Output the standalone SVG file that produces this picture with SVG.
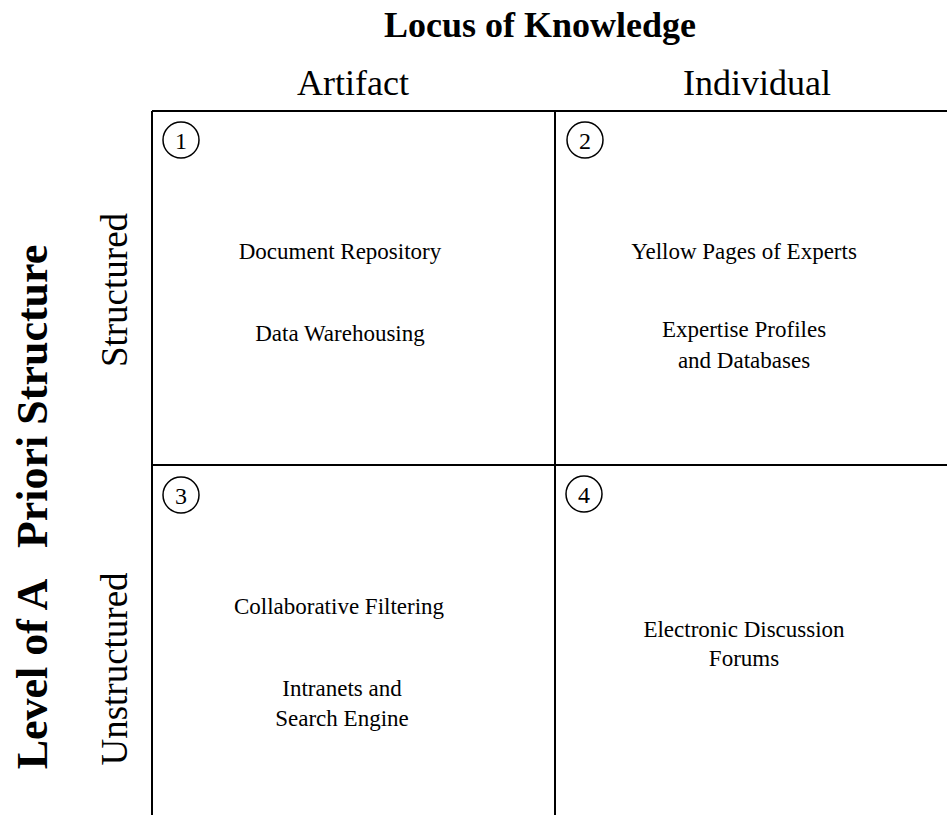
<svg xmlns="http://www.w3.org/2000/svg" width="947" height="815" viewBox="0 0 947 815">
<style>
text{font-family:"Liberation Serif","Times New Roman",serif;fill:#000}
.title{font-size:36px;font-weight:bold;text-anchor:middle}
.col{font-size:36px;text-anchor:middle}
.axis{font-size:44px;font-weight:bold;text-anchor:middle}
.row{font-size:37px;text-anchor:middle}
.cell{font-size:23px;text-anchor:middle}
.num{font-size:24px;text-anchor:middle}
.grid{stroke:#000;stroke-width:2;fill:none}
.circ{stroke:#000;stroke-width:1.5;fill:none}
</style>
<rect width="947" height="815" fill="#fff"/>
<text class="title" x="540" y="37">Locus of Knowledge</text>
<text class="col" x="353" y="95">Artifact</text>
<text class="col" x="757" y="95">Individual</text>
<text class="axis" transform="translate(47,507) rotate(-90)" xml:space="preserve">Level of A   Priori Structure</text>
<text class="row" transform="translate(127,290) rotate(-90)">Structured</text>
<text class="row" transform="translate(127,669) rotate(-90)">Unstructured</text>
<g id="connectors">
<path class="grid" d="M152,111 H947 M152,111 V815 M555,111 V815 M152,465 H947"/>
</g>
<g id="cell1">
<circle class="circ" cx="181" cy="140" r="18"/>
<text class="num" x="181" y="148.5">1</text>
<text class="cell" x="340" y="259">Document Repository</text>
<text class="cell" x="340" y="341">Data Warehousing</text>
</g>
<g id="cell2">
<circle class="circ" cx="585" cy="140" r="18"/>
<text class="num" x="585" y="148.5">2</text>
<text class="cell" x="744" y="259">Yellow Pages of Experts</text>
<text class="cell" x="744" y="337">Expertise Profiles</text>
<text class="cell" x="744" y="368">and Databases</text>
</g>
<g id="cell3">
<circle class="circ" cx="181" cy="495" r="18"/>
<text class="num" x="181" y="503.5">3</text>
<text class="cell" x="339" y="614">Collaborative Filtering</text>
<text class="cell" x="342" y="696">Intranets and</text>
<text class="cell" x="342" y="726">Search Engine</text>
</g>
<g id="cell4">
<circle class="circ" cx="584" cy="494" r="18"/>
<text class="num" x="584" y="502.5">4</text>
<text class="cell" x="744" y="637">Electronic Discussion</text>
<text class="cell" x="744" y="666">Forums</text>
</g>
</svg>
